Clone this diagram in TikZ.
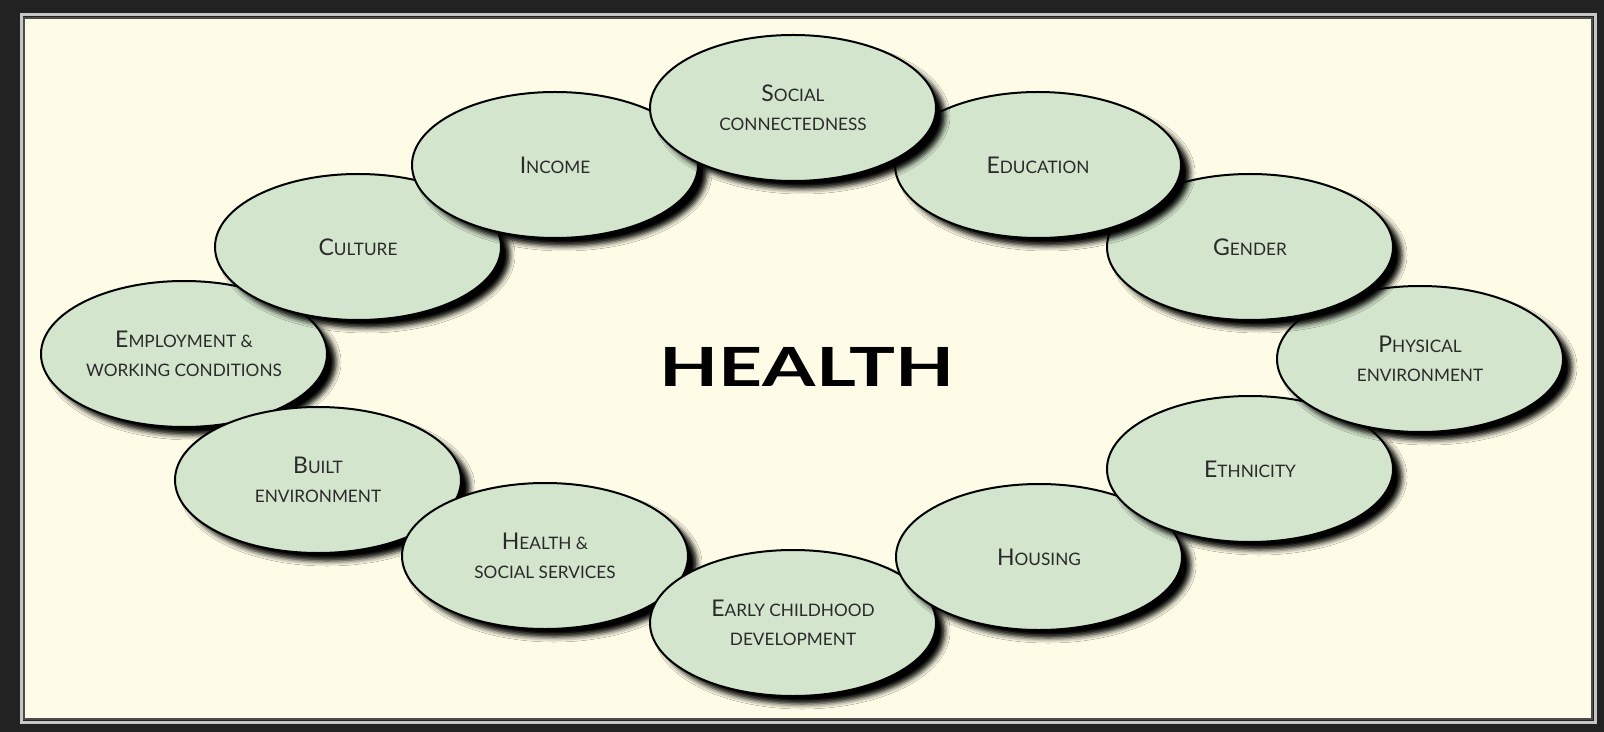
\documentclass[tikz,border=0pt]{standalone}
\usepackage{fontspec}
\setmainfont{Lato}
\usetikzlibrary{shapes.geometric,shadows.blur}
\definecolor{frame}{HTML}{222222}
\definecolor{paper}{HTML}{FEFCE6}
\definecolor{sage}{HTML}{D3E5CC}
\definecolor{ink}{HTML}{2A2A2A}
\newcommand{\Sc}[1]{{\fontsize{8.6}{14}\selectfont\MakeUppercase{#1}}}

\begin{document}
\begin{tikzpicture}[x=.5pt,y=-.5pt,font=\fontsize{11.5}{14.5}\selectfont,
	factor/.style={ellipse,draw=black,line width=1pt,fill=sage,text=ink,align=center,
		minimum width=143pt,minimum height=73pt,inner sep=0pt,
		blur shadow={shadow xshift=4.5pt,shadow yshift=-4pt,shadow blur radius=2.5pt,shadow opacity=100}}]
		\useasboundingbox (0,0) rectangle (1604,732);
		\fill[frame] (0,0) rectangle (1604,732);
		\draw[gray!45,line width=1.5pt] (21,15) rectangle (1595,722);
		\draw[fill=paper,draw=black!70,line width=1pt] (24,18) rectangle (1592,719);
		% ring of determinants, drawn back to front
		\foreach \x/\y/\n/\t in {
			184/354/employment/{E\Sc{mployment \&}\\\Sc{working conditions}},
			318/480/built/{B\Sc{uilt}\\\Sc{environment}},
			545/556/services/{H\Sc{ealth \&}\\\Sc{social services}},
			793/623/childhood/{E\Sc{arly childhood}\\\Sc{development}},
			1039/557/housing/{H\Sc{ousing}},
			1250/469/ethnicity/{E\Sc{thnicity}},
			1420/359/physical/{P\Sc{hysical}\\\Sc{environment}},
			1250/247/gender/{G\Sc{ender}},
			1038/165/education/{E\Sc{ducation}},
			358/247/culture/{C\Sc{ulture}},
			555/165/income/{I\Sc{ncome}},
			793/108/social/{S\Sc{ocial}\\\Sc{connectedness}}}{
			\node[factor] (\n) at (\x,\y) {\t};
		}
		\node[text=black] (health) at (807,367) {\fontsize{27}{30}\selectfont\bfseries\scalebox{1.42}[1]{HEALTH}};
	\end{tikzpicture}
\end{document}
